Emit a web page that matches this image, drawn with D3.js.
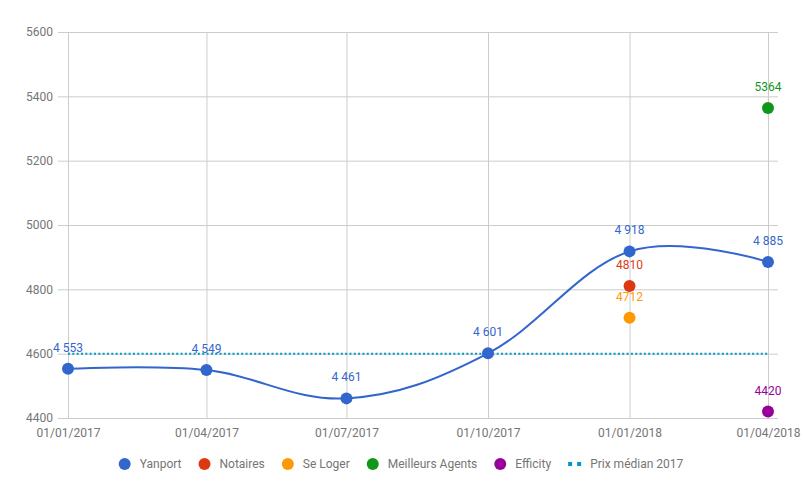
<!DOCTYPE html>
<html><head><meta charset="utf-8">
<script src="https://cdn.jsdelivr.net/npm/d3@7"></script>
<style>
body{margin:0;background:#fff}
text{font-family:Roboto,Arial,sans-serif}
</style>
</head><body>
<svg id="c" width="803" height="496"></svg>
<script>
// ---- data ----
const dates = ["2017-01-01","2017-04-01","2017-07-01","2017-10-01","2018-01-01","2018-04-01"];
const yanport = [4553, 4549, 4461, 4601, 4918, 4885];
const yanportLabels = ["4 553","4 549","4 461","4 601","4 918","4 885"];
const notaires = [null, null, null, null, 4810, null];
const seLoger = [null, null, null, null, 4712, null];
const meilleursAgents = [null, null, null, null, null, 5364];
const efficity = [null, null, null, null, null, 4420];
const medianPrice = [4600, 4600, 4600, 4600, 4600, 4600];
const yTicks = [4400, 4600, 4800, 5000, 5200, 5400, 5600];
const seriesNames = ["Yanport","Notaires","Se Loger","Meilleurs Agents","Efficity","Prix médian 2017"];
const seriesColors = ["#3366cc","#dc3912","#ff9900","#109618","#990099","#0099c6"];

// ---- setup ----
const parse = d3.utcParse("%Y-%m-%d");
const fmt = d3.utcFormat("%d/%m/%Y");
const dts = dates.map(parse);
const svg = d3.select("#c");
const L = 68, R = 768, T = 32, B = 418;
const x = d3.scaleUtc().domain([dts[0], dts[dts.length-1]]).range([L, R]);
const y = d3.scaleLinear().domain([4400, 5600]).range([B, T]);
const gray = "#757575";

// horizontal gridlines + y labels
const gy = svg.append("g").attr("transform", `translate(778,0)`)
  .call(d3.axisLeft(y).tickValues(yTicks).tickSize(720).tickPadding(5).tickFormat(d3.format("d")));
gy.select(".domain").remove();
gy.selectAll("line").attr("stroke", "#cccccc");
gy.selectAll("text").attr("fill", gray).style("font-size", "12px").style("font-family", "Roboto");

// vertical gridlines + x labels
const gx = svg.append("g").attr("transform", `translate(0,${T})`)
  .call(d3.axisBottom(x).tickValues(dts).tickSize(B - T).tickPadding(10).tickFormat(fmt));
gx.select(".domain").remove();
gx.selectAll("line").attr("stroke", "#cccccc");
gx.selectAll("text").attr("fill", gray).style("font-size", "12px").style("font-family", "Roboto");

// median dotted line
svg.append("path")
  .datum(medianPrice.map((v, i) => [dts[i], v]))
  .attr("fill", "none").attr("stroke", seriesColors[5]).attr("stroke-width", 2)
  .attr("stroke-dasharray", "2,2.33")
  .attr("d", d3.line().x(d => x(d[0])).y(d => y(d[1])));

// Yanport curve
const yd = yanport.map((v, i) => [dts[i], v, yanportLabels[i]]);
svg.append("path").datum(yd)
  .attr("fill", "none").attr("stroke", seriesColors[0]).attr("stroke-width", 2)
  .attr("d", d3.line().curve(d3.curveCardinal.tension(-0.1)).x(d => x(d[0])).y(d => y(d[1])));

function drawPoints(vals, labels, color) {
  const data = vals.map((v, i) => [dts[i], v, labels ? labels[i] : (v == null ? "" : String(v))]).filter(d => d[1] != null);
  const g = svg.append("g");
  g.selectAll("circle").data(data).join("circle")
    .attr("cx", d => x(d[0])).attr("cy", d => y(d[1])).attr("r", 6).attr("fill", color);
  g.selectAll("text").data(data).join("text")
    .attr("x", d => x(d[0])).attr("y", d => y(d[1]) - 17)
    .attr("text-anchor", "middle").attr("fill", color)
    .style("font-size", "12px").text(d => d[2]);
}
drawPoints(yanport, yanportLabels, seriesColors[0]);
drawPoints(notaires, null, seriesColors[1]);
drawPoints(seLoger, null, seriesColors[2]);
drawPoints(meilleursAgents, null, seriesColors[3]);
drawPoints(efficity, null, seriesColors[4]);

// legend
const lg = svg.append("g");
const items = seriesNames.map((n, i) => {
  const g = lg.append("g");
  if (i < 5) {
    g.append("circle").attr("cx", 6).attr("cy", 0).attr("r", 6).attr("fill", seriesColors[i]);
  } else {
    g.append("line").attr("x1", 0).attr("x2", 13).attr("y1", 0).attr("y2", 0)
      .attr("stroke", seriesColors[i]).attr("stroke-width", 4).attr("stroke-dasharray", "4,5");
  }
  const tx = i < 5 ? 21 : 22;
  const t = g.append("text").attr("x", tx).attr("y", 0).attr("dy", "0.35em")
    .attr("fill", gray).style("font-size", "12px").text(n);
  return {g, w: tx + t.node().getComputedTextLength()};
});
const gap = 17;
const total = d3.sum(items, d => d.w) + gap * (items.length - 1);
let cx = 401 - total / 2;
items.forEach(it => { it.g.attr("transform", `translate(${cx},464)`); cx += it.w + gap; });
</script>
</body></html>
